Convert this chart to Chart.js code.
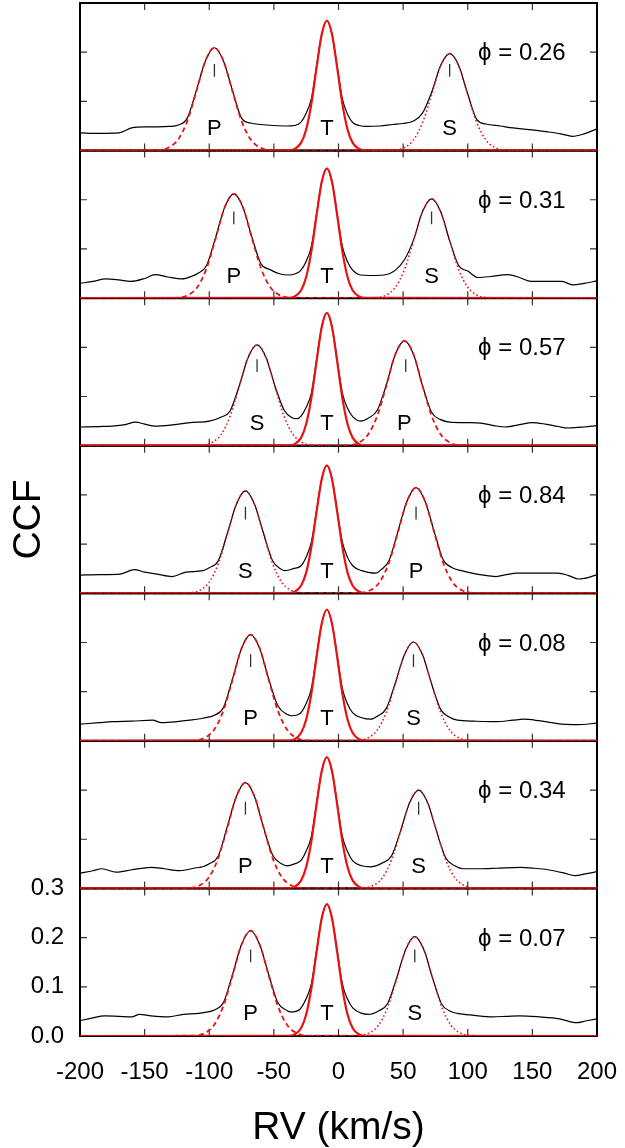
<!DOCTYPE html>
<html>
<head>
<meta charset="utf-8">
<script src="https://cdn.jsdelivr.net/npm/chart.js@4.4.1/dist/chart.umd.min.js"></script>
<style>
  html, body { margin: 0; padding: 0; background: #fff; }
  #ccf { display: block; }
</style>
</head>
<body>
<canvas id="ccf" width="625" height="1148"></canvas>
<script>
// phases, top panel first
const phases = ['0.26', '0.31', '0.57', '0.84', '0.08', '0.34', '0.07'];

// component labels and their RV positions (km/s) per panel
const compNames = [
  ['P', 'T', 'S'], ['P', 'T', 'S'], ['S', 'T', 'P'], ['S', 'T', 'P'],
  ['P', 'T', 'S'], ['P', 'T', 'S'], ['P', 'T', 'S'],
];
const compRV = [
  [-96, -9, 86], [-81, -9, 72], [-63, -9, 51], [-72, -9, 60],
  [-68, -9, 58], [-72, -9, 62], [-68, -9, 59],
];
// little vertical markers above the P and S peaks
const markRV = [
  [-96, 86], [-81, 72], [-63, 52], [-72, 60], [-68, 58], [-72, 62], [-68, 59],
];

const xTickValues = [-150, -100, -50, 0, 50, 100, 150];
const yTickValues = [0.1, 0.2];

// observed CCFs, [RV, CCF]
const obs026 = [[-200,0.036],[-185,0.035],[-170,0.036],[-160,0.046],[-150,0.048],[-140,0.048],[-131,0.049],[-124,0.052],[-117,0.066],[-110,0.122],[-103,0.182],[-96,0.209],[-89,0.182],[-82,0.122],[-75,0.066],[-68,0.056],[-60,0.053],[-50,0.051],[-40,0.050],[-34,0.051],[-29,0.058],[-25,0.076],[-21,0.105],[-17,0.171],[-13,0.236],[-9,0.264],[-5,0.236],[-1,0.171],[3,0.105],[7,0.074],[11,0.057],[16,0.051],[22,0.049],[32,0.050],[42,0.053],[50,0.055],[58,0.060],[65,0.076],[72,0.118],[79,0.173],[86,0.197],[93,0.173],[100,0.115],[107,0.063],[114,0.054],[125,0.050],[135,0.046],[150,0.042],[162,0.038],[172,0.034],[181,0.029],[190,0.034],[200,0.044]];
const obs031 = [[-200,0.030],[-190,0.034],[-180,0.039],[-170,0.037],[-161,0.034],[-150,0.040],[-142,0.048],[-132,0.043],[-121,0.039],[-113,0.045],[-109,0.050],[-102,0.067],[-95,0.124],[-88,0.185],[-81,0.212],[-74,0.185],[-67,0.124],[-60,0.070],[-53,0.058],[-45,0.049],[-38,0.047],[-34,0.049],[-29,0.057],[-25,0.075],[-21,0.105],[-17,0.171],[-13,0.236],[-9,0.264],[-5,0.236],[-1,0.171],[3,0.105],[7,0.074],[11,0.057],[17,0.047],[25,0.046],[35,0.047],[44,0.057],[51,0.078],[58,0.118],[65,0.176],[72,0.202],[79,0.176],[86,0.117],[93,0.066],[100,0.055],[108,0.042],[118,0.044],[131,0.048],[140,0.042],[149,0.034],[160,0.034],[173,0.034],[181,0.027],[190,0.030],[200,0.035]];
const obs057 = [[-200,0.038],[-185,0.039],[-175,0.040],[-165,0.043],[-157,0.048],[-150,0.044],[-142,0.040],[-130,0.042],[-115,0.047],[-100,0.050],[-91,0.058],[-84,0.070],[-77,0.120],[-70,0.179],[-63,0.205],[-56,0.179],[-49,0.120],[-42,0.072],[-36,0.057],[-32,0.055],[-29,0.060],[-25,0.078],[-21,0.107],[-17,0.174],[-13,0.241],[-9,0.270],[-5,0.241],[-1,0.174],[3,0.107],[7,0.076],[11,0.059],[17,0.050],[23,0.056],[30,0.072],[37,0.124],[44,0.186],[51,0.213],[58,0.186],[65,0.122],[72,0.068],[79,0.053],[86,0.048],[100,0.047],[110,0.046],[120,0.041],[129,0.038],[140,0.043],[150,0.047],[160,0.044],[170,0.039],[178,0.036],[190,0.038],[200,0.041]];
const obs084 = [[-200,0.037],[-185,0.038],[-169,0.039],[-158,0.048],[-150,0.043],[-140,0.039],[-129,0.034],[-118,0.043],[-105,0.046],[-100,0.052],[-93,0.066],[-86,0.122],[-79,0.181],[-72,0.208],[-65,0.181],[-58,0.122],[-51,0.066],[-45,0.050],[-41,0.046],[-35,0.050],[-29,0.056],[-25,0.074],[-21,0.104],[-17,0.168],[-13,0.232],[-9,0.260],[-5,0.232],[-1,0.168],[3,0.104],[7,0.073],[11,0.056],[18,0.046],[24,0.042],[29,0.041],[33,0.048],[39,0.066],[46,0.126],[53,0.187],[60,0.215],[67,0.187],[74,0.126],[81,0.068],[88,0.052],[95,0.046],[105,0.040],[115,0.036],[122,0.034],[130,0.038],[138,0.041],[150,0.041],[160,0.041],[170,0.041],[178,0.036],[186,0.029],[193,0.032],[200,0.038]];
const obs008 = [[-200,0.034],[-185,0.037],[-175,0.039],[-160,0.040],[-144,0.042],[-137,0.037],[-125,0.039],[-115,0.042],[-105,0.046],[-96,0.052],[-89,0.068],[-82,0.126],[-75,0.188],[-68,0.216],[-61,0.188],[-54,0.126],[-47,0.072],[-40,0.054],[-36,0.051],[-30,0.055],[-25,0.076],[-21,0.106],[-17,0.173],[-13,0.238],[-9,0.267],[-5,0.238],[-1,0.173],[3,0.106],[7,0.075],[11,0.057],[18,0.047],[25,0.044],[30,0.050],[37,0.066],[44,0.118],[51,0.175],[58,0.201],[65,0.175],[72,0.116],[79,0.064],[86,0.048],[92,0.042],[105,0.040],[122,0.039],[135,0.042],[143,0.044],[155,0.041],[165,0.037],[173,0.034],[185,0.033],[200,0.036]];
const obs034 = [[-200,0.031],[-190,0.036],[-183,0.040],[-172,0.033],[-160,0.038],[-145,0.043],[-135,0.040],[-123,0.036],[-110,0.042],[-105,0.044],[-100,0.050],[-93,0.066],[-86,0.126],[-79,0.187],[-72,0.215],[-65,0.187],[-58,0.124],[-51,0.068],[-44,0.050],[-40,0.046],[-34,0.050],[-29,0.057],[-25,0.076],[-21,0.106],[-17,0.173],[-13,0.238],[-9,0.267],[-5,0.238],[-1,0.173],[3,0.106],[7,0.075],[11,0.056],[18,0.046],[25,0.044],[34,0.052],[41,0.066],[48,0.117],[55,0.174],[62,0.200],[69,0.174],[76,0.115],[83,0.062],[90,0.046],[96,0.040],[110,0.040],[122,0.041],[141,0.043],[152,0.041],[162,0.038],[175,0.031],[183,0.026],[192,0.030],[200,0.034]];
const obs007 = [[-200,0.031],[-190,0.037],[-181,0.041],[-170,0.040],[-160,0.039],[-154,0.044],[-145,0.041],[-132,0.039],[-120,0.044],[-108,0.046],[-101,0.049],[-96,0.053],[-89,0.068],[-82,0.125],[-75,0.186],[-68,0.214],[-61,0.186],[-54,0.125],[-47,0.068],[-40,0.052],[-37,0.049],[-30,0.054],[-25,0.076],[-21,0.106],[-17,0.173],[-13,0.239],[-9,0.268],[-5,0.239],[-1,0.173],[3,0.106],[7,0.075],[11,0.057],[17,0.047],[23,0.044],[31,0.051],[38,0.066],[45,0.118],[52,0.176],[59,0.202],[66,0.176],[73,0.116],[80,0.064],[87,0.050],[92,0.046],[105,0.042],[119,0.039],[130,0.040],[140,0.041],[155,0.039],[171,0.035],[184,0.027],[192,0.031],[200,0.035]];

// gaussian fits, [RV, CCF]
const fitT264 = [[-200,0],[-39,0.0004],[-34,0.0032],[-29,0.0156],[-25,0.043],[-21,0.095],[-17,0.168],[-13,0.236],[-9,0.264],[-5,0.236],[-1,0.168],[3,0.095],[7,0.043],[11,0.0156],[16,0.0032],[21,0.0004],[200,0]];
const fitT270 = [[-200,0],[-39,0.0005],[-34,0.0032],[-29,0.0159],[-25,0.044],[-21,0.097],[-17,0.171],[-13,0.241],[-9,0.270],[-5,0.241],[-1,0.171],[3,0.097],[7,0.044],[11,0.0159],[16,0.0032],[21,0.0005],[200,0]];
const fitT260 = [[-200,0],[-39,0.0004],[-34,0.0031],[-29,0.0153],[-25,0.042],[-21,0.094],[-17,0.165],[-13,0.232],[-9,0.260],[-5,0.232],[-1,0.165],[3,0.094],[7,0.042],[11,0.0153],[16,0.0031],[21,0.0004],[200,0]];
const fitT267 = [[-200,0],[-39,0.0005],[-34,0.0032],[-29,0.0158],[-25,0.0435],[-21,0.096],[-17,0.170],[-13,0.238],[-9,0.267],[-5,0.238],[-1,0.170],[3,0.096],[7,0.0435],[11,0.0158],[16,0.0032],[21,0.0005],[200,0]];
const fitT268 = [[-200,0],[-39,0.0005],[-34,0.0032],[-29,0.0158],[-25,0.0437],[-21,0.0965],[-17,0.170],[-13,0.239],[-9,0.268],[-5,0.239],[-1,0.170],[3,0.0965],[7,0.0437],[11,0.0158],[16,0.0032],[21,0.0005],[200,0]];

const fitP026 = [[-200,0],[-141,0.0007],[-131,0.0066],[-124,0.0228],[-117,0.060],[-110,0.120],[-103,0.182],[-96,0.209],[-89,0.182],[-82,0.120],[-75,0.060],[-68,0.0228],[-61,0.0066],[-51,0.0007],[200,0]];
const fitS026 = [[-200,0],[41,0.0006],[51,0.0062],[58,0.0215],[65,0.0566],[72,0.113],[79,0.172],[86,0.197],[93,0.172],[100,0.113],[107,0.0566],[114,0.0215],[121,0.0062],[131,0.0006],[200,0]];
const fitP031 = [[-200,0],[-126,0.0007],[-116,0.0067],[-109,0.0231],[-102,0.061],[-95,0.122],[-88,0.185],[-81,0.212],[-74,0.185],[-67,0.122],[-60,0.061],[-53,0.0231],[-46,0.0067],[-36,0.0007],[200,0]];
const fitS031 = [[-200,0],[27,0.0007],[37,0.0063],[44,0.022],[51,0.058],[58,0.116],[65,0.176],[72,0.202],[79,0.176],[86,0.116],[93,0.058],[100,0.022],[107,0.0063],[117,0.0007],[200,0]];
const fitS057 = [[-200,0],[-108,0.0007],[-98,0.0064],[-91,0.0223],[-84,0.059],[-77,0.118],[-70,0.179],[-63,0.205],[-56,0.179],[-49,0.118],[-42,0.059],[-35,0.0223],[-28,0.0064],[-18,0.0007],[200,0]];
const fitP057 = [[-200,0],[6,0.0007],[16,0.0067],[23,0.0232],[30,0.061],[37,0.122],[44,0.186],[51,0.213],[58,0.186],[65,0.122],[72,0.061],[79,0.0232],[86,0.0067],[96,0.0007],[200,0]];
const fitS084 = [[-200,0],[-117,0.0007],[-107,0.0065],[-100,0.0227],[-93,0.060],[-86,0.120],[-79,0.181],[-72,0.208],[-65,0.181],[-58,0.120],[-51,0.060],[-44,0.0227],[-37,0.0065],[-27,0.0007],[200,0]];
const fitP084 = [[-200,0],[15,0.0007],[25,0.0068],[32,0.0234],[39,0.062],[46,0.124],[53,0.187],[60,0.215],[67,0.187],[74,0.124],[81,0.062],[88,0.0234],[95,0.0068],[105,0.0007],[200,0]];
const fitP008 = [[-200,0],[-113,0.0007],[-103,0.0068],[-96,0.0235],[-89,0.062],[-82,0.124],[-75,0.188],[-68,0.216],[-61,0.188],[-54,0.124],[-47,0.062],[-40,0.0235],[-33,0.0068],[-23,0.0007],[200,0]];
const fitS008 = [[-200,0],[13,0.0007],[23,0.0063],[30,0.0219],[37,0.058],[44,0.116],[51,0.175],[58,0.201],[65,0.175],[72,0.116],[79,0.058],[86,0.0219],[93,0.0063],[103,0.0007],[200,0]];
const fitP034 = [[-200,0],[-117,0.0007],[-107,0.0068],[-100,0.0234],[-93,0.062],[-86,0.124],[-79,0.187],[-72,0.215],[-65,0.187],[-58,0.124],[-51,0.062],[-44,0.0234],[-37,0.0068],[-27,0.0007],[200,0]];
const fitS034 = [[-200,0],[17,0.0007],[27,0.0063],[34,0.0218],[41,0.0575],[48,0.115],[55,0.174],[62,0.200],[69,0.174],[76,0.115],[83,0.0575],[90,0.0218],[97,0.0063],[107,0.0007],[200,0]];
const fitP007 = [[-200,0],[-113,0.0007],[-103,0.0067],[-96,0.0233],[-89,0.0615],[-82,0.123],[-75,0.186],[-68,0.214],[-61,0.186],[-54,0.123],[-47,0.0615],[-40,0.0233],[-33,0.0067],[-23,0.0007],[200,0]];
const fitS007 = [[-200,0],[14,0.0007],[24,0.0063],[31,0.022],[38,0.058],[45,0.116],[52,0.176],[59,0.202],[66,0.176],[73,0.116],[80,0.058],[87,0.022],[94,0.0063],[104,0.0007],[200,0]];

const panels = [
  { obs: obs026, P: fitP026, T: fitT264, S: fitS026 },
  { obs: obs031, P: fitP031, T: fitT264, S: fitS031 },
  { obs: obs057, P: fitP057, T: fitT270, S: fitS057 },
  { obs: obs084, P: fitP084, T: fitT260, S: fitS084 },
  { obs: obs008, P: fitP008, T: fitT267, S: fitS008 },
  { obs: obs034, P: fitP034, T: fitT267, S: fitS034 },
  { obs: obs007, P: fitP007, T: fitT268, S: fitS007 },
];

const FONT = '"Liberation Sans", Arial, Helvetica, sans-serif';
const RED = 'rgb(232, 18, 18)';
Chart.defaults.font.family = FONT;
Chart.defaults.color = '#000';

const toXY = (pts) => pts.map(([x, y]) => ({ x, y }));
const axisId = (i) => `p${i}`;

const LINE_BASE = {
  pointRadius: 0,
  pointHoverRadius: 0,
  fill: false,
  cubicInterpolationMode: 'monotone',
};

const datasets = [];
panels.forEach((p, i) => {
  datasets.push({ ...LINE_BASE, data: toXY(p.T), yAxisID: axisId(i), borderColor: RED, borderWidth: 2.2, order: 0 });
  datasets.push({ ...LINE_BASE, data: toXY(p.P), yAxisID: axisId(i), borderColor: RED, borderWidth: 1.8, borderDash: [5, 3.5], order: 0 });
  datasets.push({ ...LINE_BASE, data: toXY(p.S), yAxisID: axisId(i), borderColor: RED, borderWidth: 1.6, borderDash: [1.5, 2.5], order: 0 });
  datasets.push({ ...LINE_BASE, data: toXY(p.obs), yAxisID: axisId(i), borderColor: '#000', borderWidth: 1.2, order: 1 });
});

// keep the plot box fixed: no extra room for overflowing tick labels
const noOverflow = (scale) => {
  scale.paddingTop = 0;
  scale.paddingBottom = 0;
  scale.paddingLeft = 0;
  scale.paddingRight = 0;
};

/**
 * scales: one x axis, seven y axes stacked on the left
 */
const SCALES = {
  x: {
    type: 'linear',
    position: 'bottom',
    min: -200,
    max: 200,
    grid: { display: false, drawTicks: false },
    border: { display: false },
    ticks: { stepSize: 50, padding: 22, font: { size: 24 }, maxRotation: 0, autoSkip: false },
    title: {
      display: true,
      text: 'RV (km/s)',
      font: { size: 39, lineHeight: 1 },
      padding: 0,
    },
    afterFit: (scale) => {
      scale.height = 112;
      noOverflow(scale);
    },
  },
};

panels.forEach((_, i) => {
  SCALES[axisId(i)] = {
    type: 'linear',
    position: 'left',
    stack: 'ccf',
    stackWeight: 1,
    weight: panels.length - 1 - i,
    min: 0,
    max: 0.3,
    grid: { display: false, drawTicks: false },
    border: { display: false },
    ticks: {
      display: i === panels.length - 1,
      stepSize: 0.1,
      autoSkip: false,
      padding: 16,
      font: { size: 24 },
      callback: (v) => Number(v).toFixed(1),
    },
    title: {
      display: i === 3,
      text: 'CCF',
      font: { size: 39 },
      padding: { top: 6, bottom: 0 },
    },
    afterFit: (scale) => {
      scale.width = 80;
      noOverflow(scale);
    },
  };
});

// frames, inward ticks, component labels and phases
const panelDecor = {
  id: 'panelDecor',
  beforeDatasetsDraw(chart) {
    const { ctx, chartArea, scales } = chart;
    const xs = scales.x;
    ctx.save();
    panels.forEach((_, i) => {
      const ys = scales[axisId(i)];
      const top = ys.getPixelForValue(0.3);
      const bottom = ys.getPixelForValue(0);
      ctx.strokeStyle = '#333';
      ctx.lineWidth = 1.2;
      ctx.beginPath();
      xTickValues.forEach((v) => {
        const px = xs.getPixelForValue(v);
        ctx.moveTo(px, top);
        ctx.lineTo(px, top + 7);
        ctx.moveTo(px, bottom);
        ctx.lineTo(px, bottom - 7);
      });
      yTickValues.forEach((v) => {
        const py = ys.getPixelForValue(v);
        ctx.moveTo(chartArea.left, py);
        ctx.lineTo(chartArea.left + 7, py);
        ctx.moveTo(chartArea.right, py);
        ctx.lineTo(chartArea.right - 7, py);
      });
      ctx.stroke();
      ctx.strokeStyle = '#000';
      ctx.lineWidth = 2;
      ctx.strokeRect(chartArea.left, top, chartArea.right - chartArea.left, bottom - top);
    });
    ctx.restore();
  },
  afterDatasetsDraw(chart) {
    const { ctx, scales } = chart;
    const xs = scales.x;
    ctx.save();
    ctx.fillStyle = '#000';
    panels.forEach((_, i) => {
      const ys = scales[axisId(i)];

      ctx.font = `22px ${FONT}`;
      ctx.textAlign = 'center';
      ctx.textBaseline = 'middle';
      compNames[i].forEach((name, j) => {
        ctx.fillText(name, xs.getPixelForValue(compRV[i][j]), ys.getPixelForValue(0.044));
      });

      ctx.strokeStyle = '#333';
      ctx.lineWidth = 1.3;
      ctx.beginPath();
      markRV[i].forEach((rv) => {
        const px = xs.getPixelForValue(rv);
        ctx.moveTo(px, ys.getPixelForValue(0.150));
        ctx.lineTo(px, ys.getPixelForValue(0.176));
      });
      ctx.stroke();

      ctx.font = `24px ${FONT}`;
      ctx.textAlign = 'left';
      ctx.fillText(`\u03D5 = ${phases[i]}`, xs.getPixelForValue(108), ys.getPixelForValue(0.197));
    });
    ctx.restore();
  },
};

const CCF_CHART_CONFIG = {
  type: 'line',
  data: { datasets },
  options: {
    responsive: false,
    animation: false,
    devicePixelRatio: 1,
    layout: { padding: { top: 3, right: 28, left: 0, bottom: 0 } },
    plugins: {
      legend: { display: false },
      tooltip: { enabled: false },
    },
    scales: SCALES,
  },
  plugins: [panelDecor],
};

new Chart(document.querySelector('#ccf'), CCF_CHART_CONFIG);
</script>
</body>
</html>
